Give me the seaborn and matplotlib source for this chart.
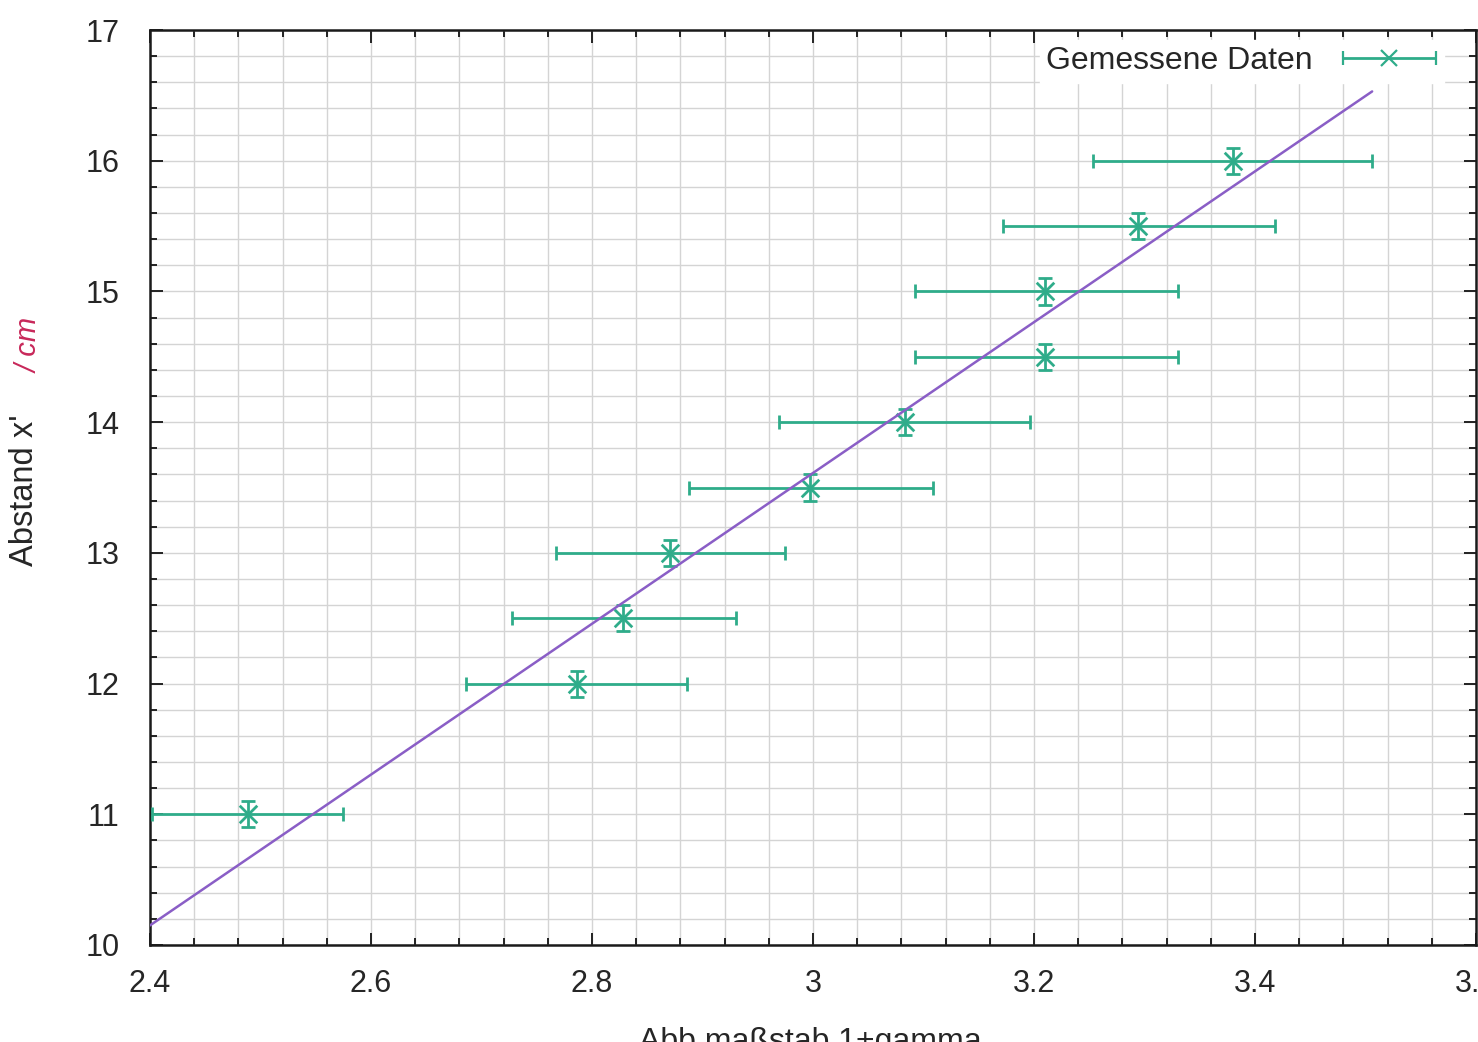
import matplotlib
matplotlib.use("Agg")
import matplotlib.pyplot as plt
import seaborn as sns
import numpy as np
from matplotlib.ticker import MultipleLocator
from matplotlib.legend_handler import HandlerErrorbar

# ---- data ----
x_vals = [2.489, 2.786, 2.828, 2.871, 2.997, 3.083, 3.210, 3.210, 3.294, 3.380]
y_vals = [11.0, 12.0, 12.5, 13.0, 13.5, 14.0, 14.5, 15.0, 15.5, 16.0]
x_lo = [2.402, 2.686, 2.728, 2.767, 2.888, 2.969, 3.092, 3.092, 3.172, 3.253]
x_hi = [2.575, 2.886, 2.930, 2.975, 3.109, 3.196, 3.330, 3.330, 3.418, 3.506]
y_err = [0.1] * 10
fit_x = [2.40, 3.506]
fit_y = [10.15, 16.53]
x_ticks = [2.4, 2.6, 2.8, 3.0, 3.2, 3.4, 3.6]
x_tick_labels = ["2.4", "2.6", "2.8", "3", "3.2", "3.4", "3.6"]
y_ticks = [10, 11, 12, 13, 14, 15, 16, 17]

sns.set_theme(style="ticks")
plt.rcParams['font.family'] = ['Liberation Sans', 'DejaVu Sans']

GREEN = "#2fac8a"
PURPLE = "#8a5ec6"
TXT = "#262626"

fig = plt.figure(figsize=(14.78, 10.42), dpi=100)
ax = fig.add_axes([150/1478, 1 - 945/1042, (1476 - 150)/1478, (945 - 30)/1042])

xerr = [np.array(x_vals) - np.array(x_lo), np.array(x_hi) - np.array(x_vals)]
ax.errorbar(x_vals, y_vals, xerr=xerr, yerr=y_err, fmt='none', ecolor=GREEN,
            elinewidth=2, capsize=5, capthick=2, zorder=3)
sns.scatterplot(x=x_vals, y=y_vals, marker='x', s=160, color=GREEN,
                linewidth=2, ax=ax, zorder=4)
sns.lineplot(x=fit_x, y=fit_y, color=PURPLE, linewidth=1.8, ax=ax, zorder=5)

# legend proxy (drawn outside the visible range): horizontal error bar with x marker
proxy = ax.errorbar([0.0], [0.0], xerr=[0.1], fmt='x', color=GREEN, ecolor=GREEN,
                    markersize=11, markeredgewidth=1.6, elinewidth=2,
                    capsize=5, capthick=2)
leg = ax.legend([proxy], ["Gemessene Daten"], loc='upper right',
                bbox_to_anchor=((1450 - 150)/1326, 0.996), markerfirst=False,
                fontsize=23, handlelength=3.0, handletextpad=0.9,
                frameon=True, fancybox=False, framealpha=1,
                borderpad=0.2, borderaxespad=0.2,
                handler_map={proxy: HandlerErrorbar(xerr_size=1.45)})
leg.get_frame().set_edgecolor('white')
leg.get_frame().set_facecolor('white')

ax.set_xlim(2.4, 3.6)
ax.set_ylim(10, 17)
ax.set_xticks(x_ticks)
ax.set_xticklabels(x_tick_labels)
ax.set_yticks(y_ticks)
ax.xaxis.set_minor_locator(MultipleLocator(0.04))
ax.yaxis.set_minor_locator(MultipleLocator(0.2))

ax.grid(True, which='both', color='#d4d4d4', linewidth=1.0, zorder=0)
ax.set_axisbelow(True)
ax.tick_params(which='both', direction='in', top=True, right=True,
               color='#222222', width=1.4)
ax.tick_params(which='major', length=9, labelsize=22, labelcolor=TXT)
ax.tick_params(axis='y', which='major', pad=22)
ax.tick_params(axis='x', which='major', pad=17)
ax.tick_params(which='minor', length=5)
for s in ax.spines.values():
    s.set_linewidth(1.8)
    s.set_color('#1a1a1a')

ax.set_ylabel("Abstand x'", fontsize=23.5, color=TXT)
ax.yaxis.set_label_coords(-110/1326, (945 - 490)/915)
fig.text(30/1478, 1 - 345/1042, "/ cm", rotation=90, color='#c8285a',
         fontsize=21, fontstyle='italic', ha='center', va='center')

fig.text(810/1478, -8/1042, "Abb maßstab 1+gamma", fontsize=23,
         color=TXT, ha='center', va='baseline')

fig.savefig("out.png", dpi=100, facecolor='white')
